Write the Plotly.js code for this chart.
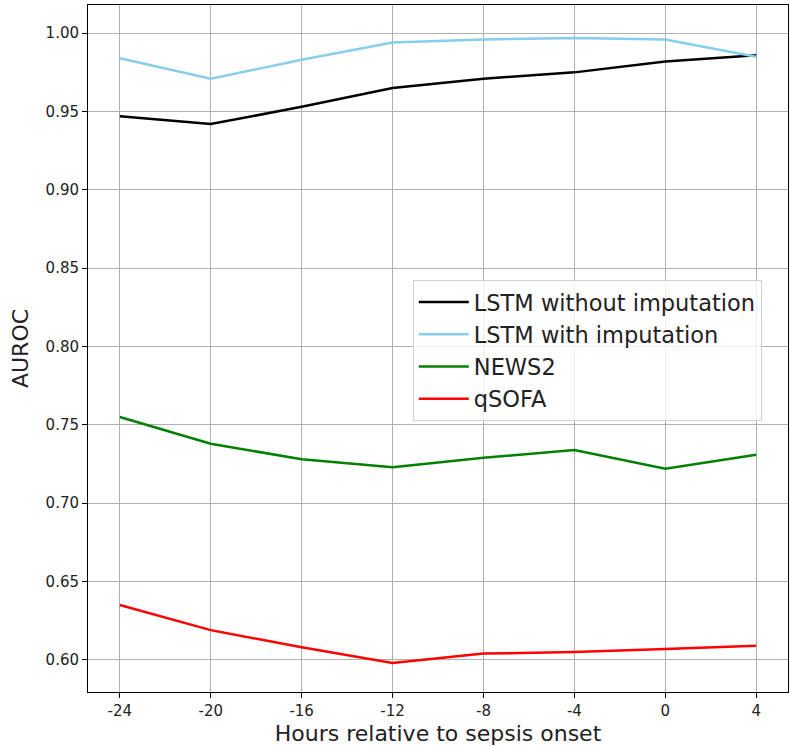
<!DOCTYPE html>
<html>
<head>
<meta charset="utf-8">
<script src="https://cdn.plot.ly/plotly-3.0.1.min.js"></script>
<style>html,body{margin:0;padding:0;background:#fff}#chart{width:790px;height:747px}</style>
</head>
<body>
<div id="chart"></div>
<script>
var hours = [-24, -20, -16, -12, -8, -4, 0, 4];
var tickLabels = ['-24', '-20', '-16', '-12', '-8', '-4', '0', '4'];
var lstmNoImp = [0.947, 0.942, 0.953, 0.965, 0.971, 0.975, 0.982, 0.986];
var lstmImp = [0.984, 0.971, 0.983, 0.994, 0.996, 0.997, 0.996, 0.985];
var news2 = [0.755, 0.738, 0.728, 0.723, 0.729, 0.734, 0.722, 0.731];
var qsofa = [0.635, 0.619, 0.608, 0.598, 0.604, 0.605, 0.607, 0.609];
var seriesNames = ['LSTM without imputation', 'LSTM with imputation', 'NEWS2', 'qSOFA'];
var yTicks = [0.60, 0.65, 0.70, 0.75, 0.80, 0.85, 0.90, 0.95, 1.00];

var colors = ['#000000', '#87ceeb', '#008000', '#ff0000'];
var ys = [lstmNoImp, lstmImp, news2, qsofa];
var traces = ys.map(function (y, i) {
  return {x: hours, y: y, name: seriesNames[i], type: 'scatter', mode: 'lines',
          line: {color: colors[i], width: 2.5}};
});

var font = 'DejaVu Sans, sans-serif';
var layout = {
  width: 790, height: 747,
  margin: {l: 88, r: 2, t: 5, b: 55},
  paper_bgcolor: '#fff', plot_bgcolor: '#fff',
  showlegend: true,
  legend: {x: 0.464, y: 0.600, xanchor: 'left', yanchor: 'top',
           font: {family: font, size: 22.5, color: '#222'},
           bgcolor: 'rgba(255,255,255,0.8)', bordercolor: '#d0d0d0', borderwidth: 1,
           itemwidth: 50, tracegroupgap: 0},
  xaxis: {
    range: [-25.4, 5.4], tickvals: hours, ticktext: tickLabels,
    showgrid: true, gridcolor: '#b0b0b0', gridwidth: 1,
    zeroline: false, showline: true, linecolor: '#000', linewidth: 1, mirror: true,
    ticks: 'outside', ticklen: 5, tickcolor: '#000',
    tickfont: {family: font, size: 15, color: '#222'},
    title: {text: 'Hours relative to sepsis onset', font: {family: font, size: 22, color: '#222'}, standoff: 6}
  },
  yaxis: {
    range: [0.5795, 1.018], tickvals: yTicks, ticktext: yTicks.map(function (v) { return v.toFixed(2); }),
    showgrid: true, gridcolor: '#b0b0b0', gridwidth: 1,
    zeroline: false, showline: true, linecolor: '#000', linewidth: 1, mirror: true,
    ticks: 'outside', ticklen: 5, tickcolor: '#000',
    tickfont: {family: font, size: 15, color: '#222'},
    title: {text: 'AUROC', font: {family: font, size: 22, color: '#222'}, standoff: 10}
  }
};
Plotly.newPlot('chart', traces, layout, {displayModeBar: false, staticPlot: true});
</script>
</body>
</html>
